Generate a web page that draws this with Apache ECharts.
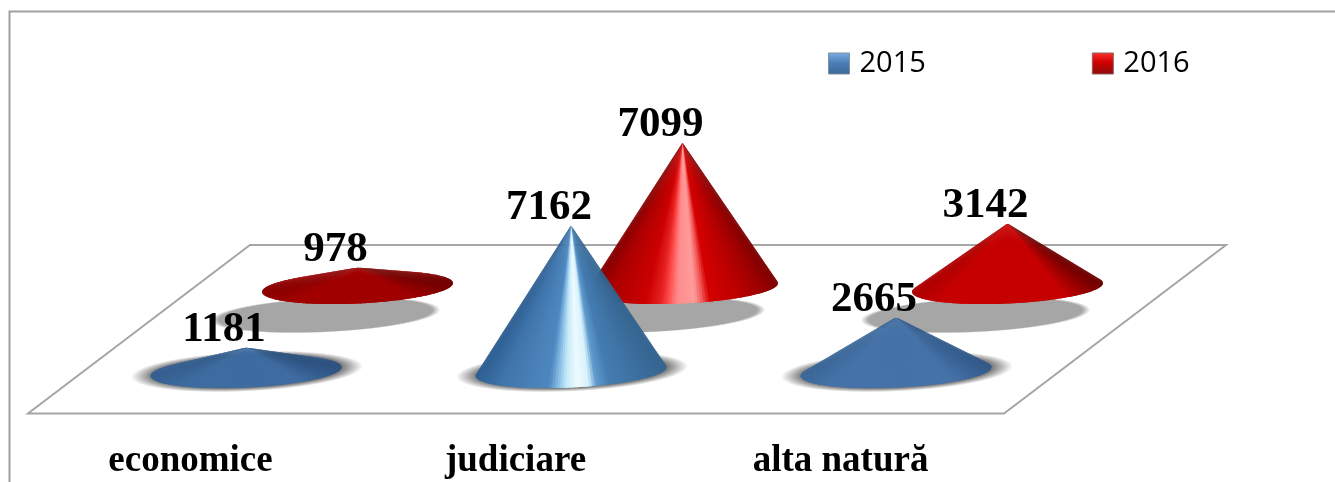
<!DOCTYPE html>
<html>
<head>
<meta charset="utf-8">
<style>html,body{margin:0;padding:0;background:#fff}#c{width:1335px;height:482px}</style>
<script src="https://cdn.jsdelivr.net/npm/echarts@6/dist/echarts.min.js"></script>
</head>
<body>
<div id="c"></div>
<script>
const categories = ['economice', 'judiciare', 'alta natură'];
const values2015 = [1181, 7162, 2665];
const values2016 = [978, 7099, 3142];

const tallBlue = [[0,'#2f5f92'],[.12,'#3e74aa'],[.38,'#4f88c0'],[.42,'#7db4e0'],[.47,'#c4e9f9'],[.53,'#effbff'],[.59,'#d6f1fc'],[.63,'#5f9acc'],[.7,'#447cb2'],[1,'#35648f']];
const tallRed = [[0,'#860000'],[.1,'#ab0000'],[.3,'#cc0000'],[.38,'#e62222'],[.42,'#ff4a4a'],[.47,'#ff8c8c'],[.56,'#ff9c9c'],[.6,'#f25a5a'],[.64,'#d60000'],[.78,'#bd0000'],[.92,'#9c0000'],[1,'#7e0000']];
const flatOffsets = [0,.15,.8,1];
const flatBlue = {dim:['#355f8f','#3d6a9f','#3d6a9f','#2c5280'], bright:['#3d6a9c','#4774aa','#4774aa','#345d8d']};
const flatRed = {dim:['#8c0000','#a00000','#a00000','#740000'], bright:['#ae0000','#c60000','#c60000','#6e0000']};

function hex(c){return [1,3,5].map(i=>parseInt(c.substr(i,2),16));}
function mix(a,b,t){const A=hex(a),B=hex(b);return 'rgb('+A.map((v,i)=>Math.round(v+(B[i]-v)*t)).join(',')+')';}
function hexOf(a,b,k){const A=hex(a),B=hex(b);return '#'+A.map((v,i)=>Math.round(v+(B[i]-v)*k).toString(16).padStart(2,'0')).join('');}
function sample(stops,t){
  for(let i=1;i<stops.length;i++){
    if(t<=stops[i][0]){
      const p=stops[i-1],q=stops[i];
      return mix(p[1],q[1],Math.max(0,(t-p[0])/(q[0]-p[0])));
    }
  }
  return stops[stops.length-1][1];
}
function radial(color,solid){
  return {type:'radial',x:.5,y:.5,r:.5,colorStops:[
    {offset:0,color:color},{offset:solid,color:color},{offset:1,color:color+'00'}]};
}
const TILT = 2.7*Math.PI/180;
const RY = 16;

function coneRenderer(opts){
  return function(params,api){
    const value = api.value(1);
    const top = api.coord([api.value(0),value]);
    const base = api.coord([api.value(0),0]);
    const rx = api.size([1,0])[0]*0.294;
    const cx = base[0], cy = base[1];
    const h = cy-top[1];
    const rot = (x,y)=>[cx+x*Math.cos(TILT)+y*Math.sin(TILT), cy-x*Math.sin(TILT)+y*Math.cos(TILT)];
    const children = [];
    children.push({
      type:'circle', shape:{cx:0,cy:0,r:opts.shadowRx},
      x:cx+opts.shadowDx, y:cy+opts.shadowDy, scaleY:opts.shadowRy/opts.shadowRx, rotation:TILT,
      style:{fill:radial(opts.shadowColor,opts.shadowSolid)}, silent:true
    });
    const over = h>RY ? Math.asin(RY/h) : Math.PI/2;
    const N = 110;
    const start = -over, end = Math.PI+over;
    const step = (end-start)/N;
    let stops;
    if(value>=5000){stops=opts.tall;}
    else{
      const k=Math.min(1,Math.max(0,(value-1000)/2000));
      stops=flatOffsets.map((o,i)=>[o,hexOf(opts.flat.dim[i],opts.flat.bright[i],k)]);
    }
    for(let i=0;i<N;i++){
      const a=start+step*i, b=Math.min(end,a+step*2);
      const pts=[top];
      const seg=4;
      for(let s=0;s<=seg;s++){
        const th=a+(b-a)*s/seg;
        pts.push(rot(rx*Math.cos(th),RY*Math.sin(th)));
      }
      const mid=a+step/2;
      const f=(1+Math.cos(mid))/2;
      children.push({type:'polygon',shape:{points:pts},style:{fill:sample(stops,f)}});
    }
    children.push({
      type:'text', x:top[0]-22, y:top[1]+4,
      style:{text:String(value),fill:'#000',font:'bold 43px "Liberation Serif"',align:'center',verticalAlign:'bottom'}
    });
    return {type:'group',children:children};
  };
}

const chart = echarts.init(document.getElementById('c'),null,{renderer:'canvas'});
const hiddenX = g=>({type:'category',data:categories,gridIndex:g,show:false});
const hiddenY = g=>({type:'value',min:0,max:8000,interval:2000,gridIndex:g,show:false});
chart.setOption({
  animation:false,
  backgroundColor:'#fff',
  graphic:[
    {type:'polyline',z:0,silent:true,shape:{points:[[9.5,482],[9.5,11.5],[1335,11.5]]},style:{fill:'none',stroke:'#a0a0a0',lineWidth:2}},
    {type:'polygon',z:0,silent:true,shape:{points:[[28,413.5],[1004,413.5],[1226,245],[250,245]]},style:{fill:'#fff',stroke:'#a6a6a6',lineWidth:2}}
  ],
  legend:{
    left:823,top:44,itemWidth:21,itemHeight:21,itemGap:166,icon:'rect',
    textStyle:{fontFamily:'Open Sans',fontSize:29,color:'#000',padding:[0,0,0,5]},
    data:[
      {name:'2015',itemStyle:{borderColor:'#7f8fa0',borderWidth:1,color:{type:'linear',x:0,y:0,x2:0,y2:1,colorStops:[{offset:0,color:'#7db0e6'},{offset:.45,color:'#4d80b8'},{offset:1,color:'#3a6797'}]}}},
      {name:'2016',itemStyle:{borderColor:'#906060',borderWidth:1,color:{type:'linear',x:0,y:0,x2:0,y2:1,colorStops:[{offset:0,color:'#ff3030'},{offset:.45,color:'#d00000'},{offset:1,color:'#8c0c0c'}]}}}
    ]
  },
  grid:[
    {left:83.5,width:975,top:208.3,height:163.2},
    {left:195,width:975,top:124.3,height:163.2},
    {left:28,width:975,top:420,height:4}
  ],
  xAxis:[hiddenX(0),hiddenX(1),{
    type:'category',data:categories,gridIndex:2,
    axisLine:{show:false},axisTick:{show:false},
    axisLabel:{margin:19,fontFamily:'Liberation Serif',fontWeight:'bold',fontSize:37,color:'#000',interval:0}
  }],
  yAxis:[hiddenY(0),hiddenY(1),hiddenY(2)],
  series:[
    {name:'2016',type:'custom',xAxisIndex:1,yAxisIndex:1,z:2,itemStyle:{color:'#c00000'},
     encode:{x:0,y:1},data:values2016.map((v,i)=>[i,v]),
     renderItem:coneRenderer({tall:tallRed,flat:flatRed,shadowColor:'#a6a6a6',shadowSolid:.93,shadowRx:115,shadowRy:17.5,shadowDx:-32,shadowDy:27.5})},
    {name:'2015',type:'custom',xAxisIndex:0,yAxisIndex:0,z:3,itemStyle:{color:'#4f81bd'},
     encode:{x:0,y:1},data:values2015.map((v,i)=>[i,v]),
     renderItem:coneRenderer({tall:tallBlue,flat:flatBlue,shadowColor:'#7c7c7c',shadowSolid:.82,shadowRx:116,shadowRy:20,shadowDx:1,shadowDy:0})}
  ]
});
</script>
</body>
</html>
